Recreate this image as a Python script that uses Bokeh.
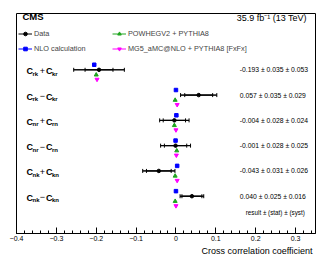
from bokeh.plotting import figure
from bokeh.models import (FixedTicker, Whisker, TeeHead, ColumnDataSource, Legend,
                          LegendItem, Label, Title, Range1d)
from bokeh.core.properties import value
from bokeh.transform import dodge
from bokeh.embed import file_html
from bokeh.resources import INLINE

# ---------------- data ----------------
obs_sub1 = ["rk", "rk", "nr", "nr", "nk", "nk"]
obs_op = ["+", "\u2212", "+", "\u2212", "+", "\u2212"]
obs_sub2 = ["kr", "kr", "rn", "rn", "kn", "kn"]
data_val = [-0.193, 0.057, -0.004, -0.001, -0.043, 0.040]
data_stat = [0.035, 0.035, 0.028, 0.028, 0.031, 0.025]
data_syst = [0.053, 0.029, 0.024, 0.025, 0.026, 0.016]
nlo_val = [-0.205, 0.000, 0.001, -0.001, 0.003, 0.000]
powheg_val = [-0.200, -0.002, -0.004, 0.002, -0.002, -0.002]
mg5_val = [-0.198, 0.003, 0.000, 0.001, 0.003, 0.000]
x_ticks = [-0.4, -0.3, -0.2, -0.1, 0.0, 0.1, 0.2, 0.3]
x_tick_labels = ["\u22120.4", "\u22120.3", "\u22120.2", "\u22120.1", "0", "0.1", "0.2", "0.3"]
legend_labels = ["Data", "NLO calculation", "POWHEGV2 + PYTHIA8", "MG5_aMC@NLO + PYTHIA8 [FxFx]"]

FONT = "Liberation Sans"
GREEN = "#1fa51f"
MAGENTA = "#ff00ff"
BLUE = "#0000ff"

rows = list(range(len(data_val), 0, -1))
tot = [(s ** 2 + y ** 2) ** 0.5 for s, y in zip(data_stat, data_syst)]
texts = [f"{v:.3f} \u00b1 {s:.3f} \u00b1 {y:.3f}" for v, s, y in zip(data_val, data_stat, data_syst)]

src = ColumnDataSource(dict(
    y=rows, val=data_val, nlo=nlo_val, pow=powheg_val, mg5=mg5_val,
    lo_tot=[v - t for v, t in zip(data_val, tot)], hi_tot=[v + t for v, t in zip(data_val, tot)],
    lo_stat=[v - s for v, s in zip(data_val, data_stat)], hi_stat=[v + s for v, s in zip(data_val, data_stat)],
    vtext=texts, c=["C"] * len(rows), s1=obs_sub1, op=obs_op, s2=obs_sub2,
))

Y0, Y1 = -0.475, 8.227
FRAME_H = 220
p = figure(width=332, height=260, x_range=Range1d(-0.4, 0.35), y_range=Range1d(Y0, Y1),
           output_backend="svg", toolbar_location=None, y_axis_location=None,
           min_border_left=16, min_border_right=17, min_border_top=13, min_border_bottom=27)
p.grid.visible = False
p.outline_line_color = "black"
p.outline_line_alpha = 1.0
p.outline_line_width = 1
p.background_fill_color = "white"
p.border_fill_color = "white"

ax = p.xaxis[0]
ax.ticker = FixedTicker(ticks=x_ticks, minor_ticks=[round(-0.4 + 0.02 * i, 2) for i in range(38)])
ax.major_label_overrides = {t: l for t, l in zip(x_ticks, x_tick_labels)}
ax.major_tick_in = 6
ax.major_tick_out = 0
ax.minor_tick_in = 3
ax.minor_tick_out = 0
ax.axis_line_color = "black"
ax.major_tick_line_color = "black"
ax.minor_tick_line_color = "black"
ax.major_label_text_font = FONT
ax.major_label_text_font_size = "7px"
ax.major_label_text_color = "black"
ax.major_label_standoff = 2

# error bars
for lo, hi in (("lo_tot", "hi_tot"), ("lo_stat", "hi_stat")):
    w = Whisker(source=src, base="y", lower=lo, upper=hi, dimension="width",
                line_color="black", line_width=1,
                lower_head=TeeHead(size=4, line_color="black", line_width=1),
                upper_head=TeeHead(size=4, line_color="black", line_width=1))
    p.add_layout(w)

data_line = p.segment(x0="lo_tot", x1="hi_tot", y0="y", y1="y", source=src, line_color="black", line_width=1)
data_pts = p.scatter("val", "y", source=src, size=3.5, color="black")
series = []
for col, dy, marker, size, color in (("nlo", 0.2, "square", 3.5, BLUE),
                                     ("pow", -0.2, "triangle", 4, GREEN),
                                     ("mg5", -0.38, "inverted_triangle", 4, MAGENTA)):
    ln = p.segment(x0=col, x1=col, y0=dodge("y", dy), y1=dodge("y", dy), source=src,
                   line_color=color, line_width=1, line_cap="butt")
    pt = p.scatter(col, dodge("y", dy), source=src, marker=marker, size=size, color=color)
    series.append((ln, pt))

all_items = [LegendItem(label=l, renderers=[ln, pt]) for l, (ln, pt) in
             zip(legend_labels, [(data_line, data_pts)] + series)]
leg_style = dict(label_text_font=FONT, label_text_font_size="7.3px", glyph_width=14, glyph_height=9,
                 label_height=9, label_standoff=2, spacing=6, padding=8, margin=0,
                 border_line_color=None, background_fill_alpha=0)
LEG_H = 40
p.add_layout(Legend(items=all_items[:2], location=(2, FRAME_H - LEG_H), **leg_style))
p.add_layout(Legend(items=all_items[2:], location=(96, FRAME_H - LEG_H), **leg_style))

# row labels
common = dict(source=src, x=-0.375, text_font=value(FONT), text_baseline="middle", text_color="black")
p.text(text="c", text_font_size="9px", text_font_style="bold", y_offset=1.5, **common)
p.text(text="s1", text_font_size="6px", text_font_style="bold", x_offset=6, y_offset=4, **common)
p.text(text="op", text_font_size="9px", x_offset=16, y_offset=1, text_align="center", **common)
p.text(text="c", text_font_size="9px", text_font_style="bold", x_offset=19.5, y_offset=1.5, **common)
p.text(text="s2", text_font_size="6px", text_font_style="bold", x_offset=25.5, y_offset=4, **common)

# value texts
p.text(x=0.16, y="y", text="vtext", source=src, text_font=value(FONT), text_font_size="6.8px",
       text_baseline="middle", text_color="black")
p.add_layout(Label(x=0.175, y=0.355, text="result \u00b1 (stat) \u00b1 (syst)", text_font=FONT,
                   text_font_size="6.3px", text_baseline="middle", text_color="black"))

# header
p.add_layout(Label(x=-0.385, y=Y1, y_offset=-2.5, text="CMS", text_font=FONT, text_font_style="bold",
                   text_font_size="9.5px", text_baseline="alphabetic", text_color="black"))
p.add_layout(Label(x=0.328, y=Y1, y_offset=-4.3, text="35.9 fb\u207b\u00b9 (13 TeV)", text_font=FONT,
                   text_font_size="9px", text_align="right", text_baseline="alphabetic",
                   text_color="black"))

p.add_layout(Title(text="Cross correlation coefficient", align="right", text_font=FONT,
                   text_font_size="9px", text_font_style="normal", text_color="black",
                   standoff=1, offset=3), "below")

open("out.html", "w").write(file_html(p, INLINE))
